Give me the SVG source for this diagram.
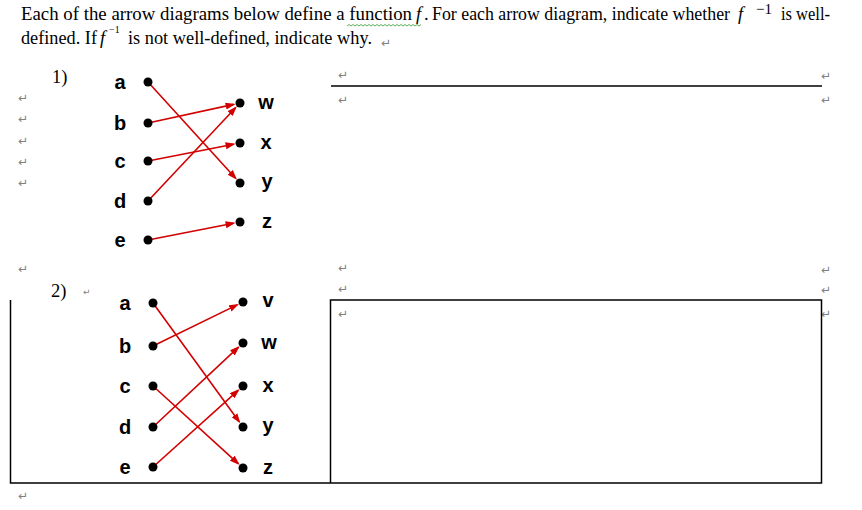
<svg xmlns="http://www.w3.org/2000/svg" width="862" height="510" viewBox="0 0 862 510">
<defs>
<style>
.t{font-family:"Liberation Serif","Times New Roman",serif;font-size:18.5px;fill:#000}
.it{font-style:italic}
.sup1{font-size:15px}
.sup2{font-size:10px}
.pm{font-family:"DejaVu Sans",sans-serif;font-size:12px;fill:#7f7f7f}
.pms{font-size:9px}
.lbl{font-family:"Liberation Sans",Arial,sans-serif;font-weight:bold;font-size:20px;fill:#000;text-anchor:middle}
.dot{fill:#000}
.ar{stroke:#d20000;stroke-width:1.6;fill:none;marker-end:url(#ah)}
.rule{stroke:#000;stroke-width:1.5;fill:none}
</style>
<marker id="ah" markerUnits="userSpaceOnUse" markerWidth="11" markerHeight="8" refX="8" refY="3.5" orient="auto">
<path d="M0,0 L10,3.5 L0,7 z" fill="#d20000"/>
</marker>
</defs>
<rect width="862" height="510" fill="#fff"/>

<!-- heading -->
<text class="t" y="20"><tspan x="21" textLength="391" lengthAdjust="spacingAndGlyphs">Each of the arrow diagrams below define a function</tspan><tspan class="it" x="416">f</tspan><tspan x="424">.</tspan></text>
<text class="t" y="20"><tspan x="432" textLength="298" lengthAdjust="spacingAndGlyphs">For each arrow diagram, indicate whether</tspan><tspan class="it" x="738">f</tspan><tspan class="sup1" x="756" y="14">−1</tspan></text>
<text class="t" x="781" y="20" textLength="49" lengthAdjust="spacingAndGlyphs">is well-</text>
<path d="M347,26 l2,-1.5 l2,1.5 l2,-1.5 l2,1.5 l2,-1.5 l2,1.5 l2,-1.5 l2,1.5 l2,-1.5 l2,1.5 l2,-1.5 l2,1.5 l2,-1.5 l2,1.5 l2,-1.5 l2,1.5 l2,-1.5 l2,1.5 l2,-1.5 l2,1.5 l2,-1.5 l2,1.5 l2,-1.5 l2,1.5 l2,-1.5 l2,1.5 l2,-1.5 l2,1.5 l2,-1.5 l2,1.5 l2,-1.5 l2,1.5 l2,-1.5 l2,1.5 l2,-1.5 l2,1.5 l2,-1.5" stroke="#2e9e2e" stroke-width="0.8" fill="none"/>
<text class="t" y="44"><tspan x="21" textLength="76" lengthAdjust="spacingAndGlyphs">defined. If</tspan><tspan class="it" x="100">f</tspan><tspan class="sup2" x="109" y="33">−1</tspan><tspan x="128" y="44" textLength="244" lengthAdjust="spacingAndGlyphs">is not well-defined, indicate why.</tspan></text>
<text class="pm" x="381" y="47">↵</text>

<!-- paragraph marks -->
<text class="pm" x="18" y="102">↵</text>
<text class="pm" x="18" y="123">↵</text>
<text class="pm" x="18" y="145">↵</text>
<text class="pm" x="18" y="166">↵</text>
<text class="pm" x="18" y="187">↵</text>
<text class="pm" x="18" y="273">↵</text>
<text class="pm" x="18" y="500">↵</text>
<text class="pm" x="338" y="79">↵</text>
<text class="pm" x="338" y="104">↵</text>
<text class="pm" x="821" y="80">↵</text>
<text class="pm" x="821" y="104">↵</text>
<text class="pm" x="338" y="272">↵</text>
<text class="pm" x="338" y="293">↵</text>
<text class="pm" x="338" y="318">↵</text>
<text class="pm" x="821" y="274">↵</text>
<text class="pm" x="821" y="294">↵</text>
<text class="pm" x="821" y="318">↵</text>
<text class="pm pms" x="83" y="295">↵</text>

<!-- numbering -->
<text class="t" x="52" y="83">1)</text>
<text class="t" x="51" y="297">2)</text>

<!-- answer areas -->
<line class="rule" x1="331" y1="86" x2="822" y2="86"/>
<path class="rule" d="M10.5,300 V483 H821.5 V300 H330.5 V483"/>

<!-- connectors -->
<g id="connectors">
<line class="ar" x1="148" y1="82" x2="235.62" y2="178.19"/>
<line class="ar" x1="148" y1="123" x2="233.65" y2="104.38"/>
<line class="ar" x1="148" y1="161" x2="233.62" y2="144.25"/>
<line class="ar" x1="148" y1="201" x2="235.55" y2="107.74"/>
<line class="ar" x1="148" y1="240" x2="233.62" y2="223.25"/>
<line class="ar" x1="153" y1="303" x2="239.18" y2="421.74"/>
<line class="ar" x1="153" y1="346" x2="237.16" y2="304.85"/>
<line class="ar" x1="153" y1="386" x2="238.20" y2="463.62"/>
<line class="ar" x1="153" y1="427" x2="238.25" y2="347.43"/>
<line class="ar" x1="153" y1="467" x2="238.17" y2="390.35"/>
</g>

<!-- diagram 1 nodes -->
<g id="d1-a"><circle class="dot" cx="148" cy="82" r="4.5"/><text class="lbl" x="120" y="89">a</text></g>
<g id="d1-b"><circle class="dot" cx="148" cy="123" r="4.5"/><text class="lbl" x="120" y="130">b</text></g>
<g id="d1-c"><circle class="dot" cx="148" cy="161" r="4.5"/><text class="lbl" x="120" y="168">c</text></g>
<g id="d1-d"><circle class="dot" cx="148" cy="201" r="4.5"/><text class="lbl" x="120" y="208">d</text></g>
<g id="d1-e"><circle class="dot" cx="148" cy="240" r="4.5"/><text class="lbl" x="120" y="247">e</text></g>
<g id="d1-w"><circle class="dot" cx="240" cy="103" r="4.5"/><text class="lbl" x="266" y="109">w</text></g>
<g id="d1-x"><circle class="dot" cx="240" cy="143" r="4.5"/><text class="lbl" x="266" y="149">x</text></g>
<g id="d1-y"><circle class="dot" cx="240" cy="183" r="4.5"/><text class="lbl" x="267" y="188">y</text></g>
<g id="d1-z"><circle class="dot" cx="240" cy="222" r="4.5"/><text class="lbl" x="267" y="228">z</text></g>

<!-- diagram 2 nodes -->
<g id="d2-a"><circle class="dot" cx="153" cy="303" r="4.5"/><text class="lbl" x="125" y="310">a</text></g>
<g id="d2-b"><circle class="dot" cx="153" cy="346" r="4.5"/><text class="lbl" x="125" y="353">b</text></g>
<g id="d2-c"><circle class="dot" cx="153" cy="386" r="4.5"/><text class="lbl" x="125" y="393">c</text></g>
<g id="d2-d"><circle class="dot" cx="153" cy="427" r="4.5"/><text class="lbl" x="125" y="434">d</text></g>
<g id="d2-e"><circle class="dot" cx="153" cy="467" r="4.5"/><text class="lbl" x="125" y="474">e</text></g>
<g id="d2-v"><circle class="dot" cx="243" cy="302" r="4.5"/><text class="lbl" x="268" y="307">v</text></g>
<g id="d2-w"><circle class="dot" cx="243" cy="343" r="4.5"/><text class="lbl" x="269" y="349">w</text></g>
<g id="d2-x"><circle class="dot" cx="243" cy="386" r="4.5"/><text class="lbl" x="268" y="392">x</text></g>
<g id="d2-y"><circle class="dot" cx="243" cy="427" r="4.5"/><text class="lbl" x="268" y="432">y</text></g>
<g id="d2-z"><circle class="dot" cx="243" cy="468" r="4.5"/><text class="lbl" x="268" y="474">z</text></g>
</svg>
